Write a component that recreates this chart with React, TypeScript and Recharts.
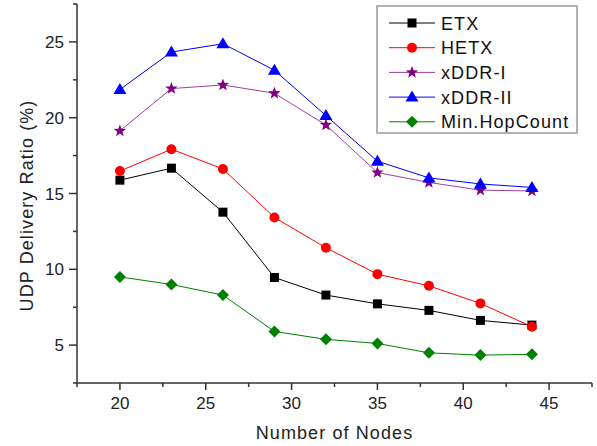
import React from 'react';
import { LineChart, Line, XAxis, YAxis, Legend } from 'recharts';

// Number of nodes vs UDP delivery ratio (%)
const nodes = [20, 23, 26, 29, 32, 35, 38, 41, 44];
const etx = [15.88, 16.67, 13.77, 9.46, 8.3, 7.72, 7.29, 6.63, 6.32];
const hetx = [16.48, 17.92, 16.62, 13.42, 11.42, 9.68, 8.91, 7.75, 6.21];
const xddr1 = [19.13, 21.92, 22.16, 21.61, 19.52, 16.38, 15.73, 15.22, 15.17];
const xddr2 = [21.86, 24.33, 24.88, 23.13, 20.14, 17.13, 16.03, 15.63, 15.4];
const minHop = [9.5, 9.0, 8.3, 5.9, 5.38, 5.11, 4.49, 4.34, 4.39];

const xTicks = [17.5, 20, 22.5, 25, 27.5, 30, 32.5, 35, 37.5, 40, 42.5, 45, 47.5];
const yTicks = [2.5, 5, 7.5, 10, 12.5, 15, 17.5, 20, 22.5, 25, 27.5];

const seriesNames = ['ETX', 'HETX', 'xDDR-I', 'xDDR-II', 'Min.HopCount'];
const seriesKeys = ['etx', 'hetx', 'xddr1', 'xddr2', 'minHop'];
const seriesColors = ['#000000', '#ff0000', '#a040a0', '#0000ff', '#008000'];
const markerColors = ['#000000', '#ff0000', '#800080', '#0000ff', '#008000'];
const markerShapes = ['square', 'circle', 'star', 'triangle', 'diamond'];

const data = nodes.map((n, i) => ({
  n,
  etx: etx[i],
  hetx: hetx[i],
  xddr1: xddr1[i],
  xddr2: xddr2[i],
  minHop: minHop[i],
}));

const FONT = "Arial, 'Liberation Sans', sans-serif";
const AXIS = '#333333';

function Marker({ shape, cx, cy, color }: { shape: string; cx: number; cy: number; color: string }) {
  if (typeof cx !== 'number' || typeof cy !== 'number') return <g />;
  if (shape === 'square') {
    return <rect x={cx - 4.5} y={cy - 4.5} width={9} height={9} fill={color} />;
  }
  if (shape === 'circle') {
    return <circle cx={cx} cy={cy} r={5} fill={color} />;
  }
  if (shape === 'triangle') {
    return <path d={`M${cx},${cy - 6.5} L${cx + 6.5},${cy + 4.5} L${cx - 6.5},${cy + 4.5} Z`} fill={color} />;
  }
  if (shape === 'diamond') {
    return <path d={`M${cx},${cy - 6} L${cx + 6},${cy} L${cx},${cy + 6} L${cx - 6},${cy} Z`} fill={color} />;
  }
  // star
  const pts: string[] = [];
  for (let k = 0; k < 10; k++) {
    const r = k % 2 === 0 ? 6.5 : 2.7;
    const a = -Math.PI / 2 + (k * Math.PI) / 5;
    pts.push(`${cx + r * Math.cos(a)},${cy + r * Math.sin(a)}`);
  }
  return <polygon points={pts.join(' ')} fill={color} />;
}

const XTick = (props: any) => {
  const { x, y, payload } = props;
  const major = payload.value % 5 === 0;
  return (
    <g>
      <line x1={x} x2={x} y1={y} y2={y + (major ? 7 : 4)} stroke={AXIS} strokeWidth={1.5} />
      {major && (
        <text x={x} y={y + 26} textAnchor="middle" fontSize={17} fontFamily={FONT} fill="#222">
          {payload.value}
        </text>
      )}
    </g>
  );
};

const YTick = (props: any) => {
  const { x, y, payload } = props;
  const major = payload.value % 5 === 0;
  return (
    <g>
      <line x1={x} x2={x - (major ? 8 : 4)} y1={y} y2={y} stroke={AXIS} strokeWidth={1.5} />
      {major && (
        <text x={x - 13} y={y + 6} textAnchor="end" fontSize={17} fontFamily={FONT} fill="#222">
          {payload.value}
        </text>
      )}
    </g>
  );
};

const LegendBox = () => (
  <svg width={202} height={129}>
    <rect x={1} y={1} width={200} height={127} fill="#fff" stroke="#999" strokeWidth={1.5} />
    {seriesNames.map((name, i) => {
      const cy = 18 + i * 24.7;
      return (
        <g key={name}>
          <line x1={13} x2={59} y1={cy} y2={cy} stroke={seriesColors[i]} strokeWidth={1} />
          <Marker shape={markerShapes[i]} cx={36} cy={cy} color={markerColors[i]} />
          <text x={65} y={cy + 6.5} fontSize={18} letterSpacing={1.1} fontFamily={FONT} fill="#111">
            {name}
          </text>
        </g>
      );
    })}
  </svg>
);

export default function App() {
  return (
    <div style={{ position: 'absolute', left: 0, top: 0, background: '#fff' }}>
      <LineChart width={597} height={446} data={data} margin={{ top: 4, right: 5, bottom: 0, left: 0 }}>
        <XAxis
          dataKey="n"
          type="number"
          domain={[17.5, 47.5]}
          ticks={xTicks}
          interval={0}
          height={63}
          tickSize={0}
          tickMargin={0}
          tickLine={false}
          tick={<XTick />}
          axisLine={{ stroke: AXIS, strokeWidth: 1.5 }}
          label={{
            content: (p: any) => {
              const vb = p.viewBox;
              return (
                <text x={vb.x + vb.width / 2} y={vb.y + 56} textAnchor="middle" fontSize={18} letterSpacing={1.1} fontFamily={FONT} fill="#222">
                  Number of Nodes
                </text>
              );
            },
          }}
        />
        <YAxis
          type="number"
          domain={[2.5, 27.5]}
          ticks={yTicks}
          interval={0}
          width={77}
          tickSize={0}
          tickMargin={0}
          tickLine={false}
          tick={<YTick />}
          axisLine={{ stroke: AXIS, strokeWidth: 1.5 }}
          label={{
            content: (p: any) => {
              const vb = p.viewBox;
              const cy = vb.y + vb.height / 2 + 12;
              return (
                <text x={33} y={cy} transform={`rotate(-90 33 ${cy})`} textAnchor="middle" fontSize={18} letterSpacing={1.1} fontFamily={FONT} fill="#222">
                  UDP Delivery Ratio (%)
                </text>
              );
            },
          }}
        />
        <Legend
          layout="horizontal"
          verticalAlign="middle"
          align="center"
          wrapperStyle={{ left: 376, top: 5, width: 202, height: 129 }}
          content={() => <LegendBox />}
        />
        {seriesKeys.map((key, i) => (
          <Line
            key={key}
            dataKey={key}
            name={seriesNames[i]}
            type="linear"
            stroke={seriesColors[i]}
            strokeWidth={1}
            isAnimationActive={false}
            activeDot={false}
            dot={(p: any) => (
              <Marker key={`${key}-${p.index}`} shape={markerShapes[i]} cx={p.cx} cy={p.cy} color={markerColors[i]} />
            )}
          />
        ))}
      </LineChart>
    </div>
  );
}
